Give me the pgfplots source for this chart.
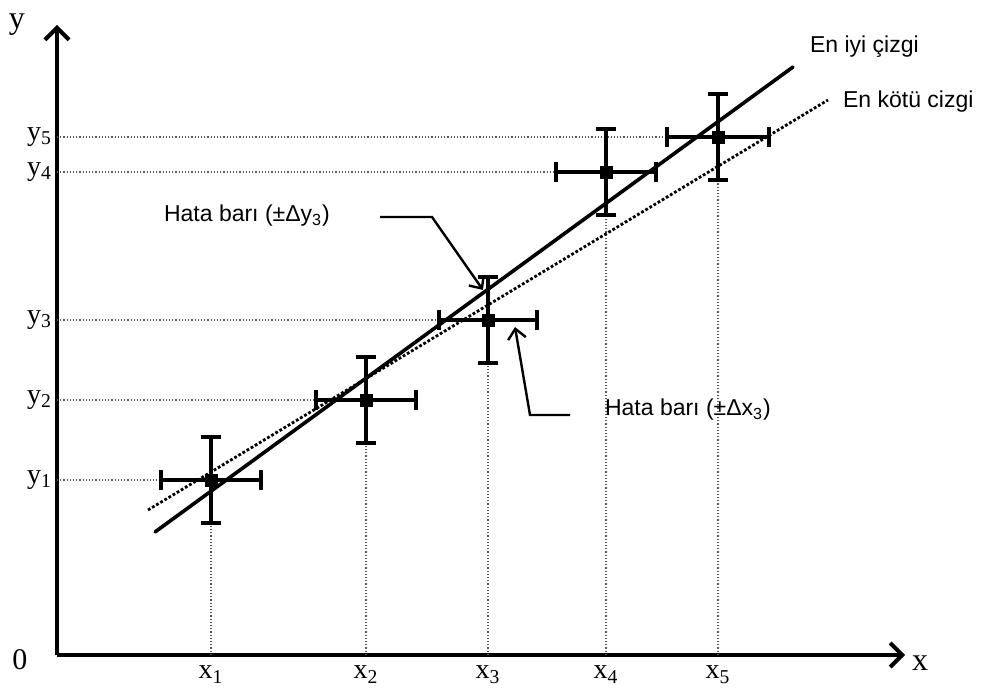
\documentclass[border=0pt]{standalone}
\usepackage{fontspec}
\setmainfont{Liberation Serif}
\setsansfont{Liberation Sans}
\usepackage{pgfplots}
\pgfplotsset{compat=1.18}
\usetikzlibrary{arrows.meta}
\begin{document}
\begin{tikzpicture}
\begin{axis}[
  scale only axis, width=424pt, height=315pt,
  xmin=0, xmax=848, ymin=0, ymax=630,
  axis lines=left,
  axis line style={line width=2pt, -{Straight Barb[length=6pt,width=12pt,line width=2pt]}},
  major tick length=0pt,
  xtick={154,309,431,549,661},
  xticklabels={x\textsubscript{1},x\textsubscript{2},x\textsubscript{3},x\textsubscript{4},x\textsubscript{5}},
  ytick={175,255,335,483,518},
  yticklabels={y\textsubscript{1},y\textsubscript{2},y\textsubscript{3},y\textsubscript{4},y\textsubscript{5}},
  tick label style={font=\fontsize{14}{16}\selectfont},
  xticklabel style={yshift=-2pt},
  yticklabel style={xshift=1pt},
  clip=false,
]
% guide lines
\addplot[xcomb, densely dotted, line width=0.6pt, gray!70!black, mark=none] coordinates {(154,175) (309,255) (431,335) (549,483) (661,518)};
\addplot[ycomb, densely dotted, line width=0.6pt, gray!70!black, mark=none] coordinates {(154,175) (309,255) (431,335) (549,483) (661,518)};
% best line
\addplot[black, line width=1.8pt, line cap=round, mark=none] coordinates {(98,123) (736,588)};
% worst line
\addplot[black, line width=1.4pt, densely dotted, mark=none] coordinates {(91,145) (771,555)};
% data with error bars
\addplot[black, only marks, mark=square*, mark size=3pt,
  error bars/.cd, x dir=both, x explicit, y dir=both, y explicit,
  error bar style={line width=1.6pt},
  error mark options={rotate=90, line width=1.6pt, mark size=5pt}]
  coordinates {
  (154,175) +- (50,43)
  (309,255) +- (50,43)
  (431,335) +- (49,43)
  (549,483) +- (50,43)
  (661,518) +- (51,43)
  };
% annotations
\draw[line width=1.2pt, -{Straight Barb[length=5pt,width=9pt]}] (axis cs:323,438) -- (axis cs:375,438) -- (axis cs:426,365);
\draw[line width=1.2pt, -{Straight Barb[length=5pt,width=9pt]}] (axis cs:513,240) -- (axis cs:473,240) -- (axis cs:458,328);
\node[anchor=west, font=\sffamily\fontsize{11.5}{13}\selectfont] at (axis cs:100,439) {Hata barı (±Δy\textsubscript{3})};
\node[anchor=west, font=\sffamily\fontsize{11.5}{13}\selectfont] at (axis cs:541,245) {Hata barı (±Δx\textsubscript{3})};
\node[anchor=west, font=\sffamily\fontsize{11.5}{13}\selectfont] at (axis cs:746,608) {En iyi çizgi};
\node[anchor=west, font=\sffamily\fontsize{11.5}{13}\selectfont] at (axis cs:779,553) {En kötü cizgi};
\node[font=\fontsize{15}{17}\selectfont] at (axis cs:-37,-5) {0};
\node[font=\fontsize{16}{18}\selectfont] at (axis cs:863,-8) {x};
\node[font=\fontsize{16}{18}\selectfont] at (axis cs:-40,630) {y};
\path (axis cs:-57,-31) rectangle (axis cs:935,655);
\end{axis}
\end{tikzpicture}
\end{document}
